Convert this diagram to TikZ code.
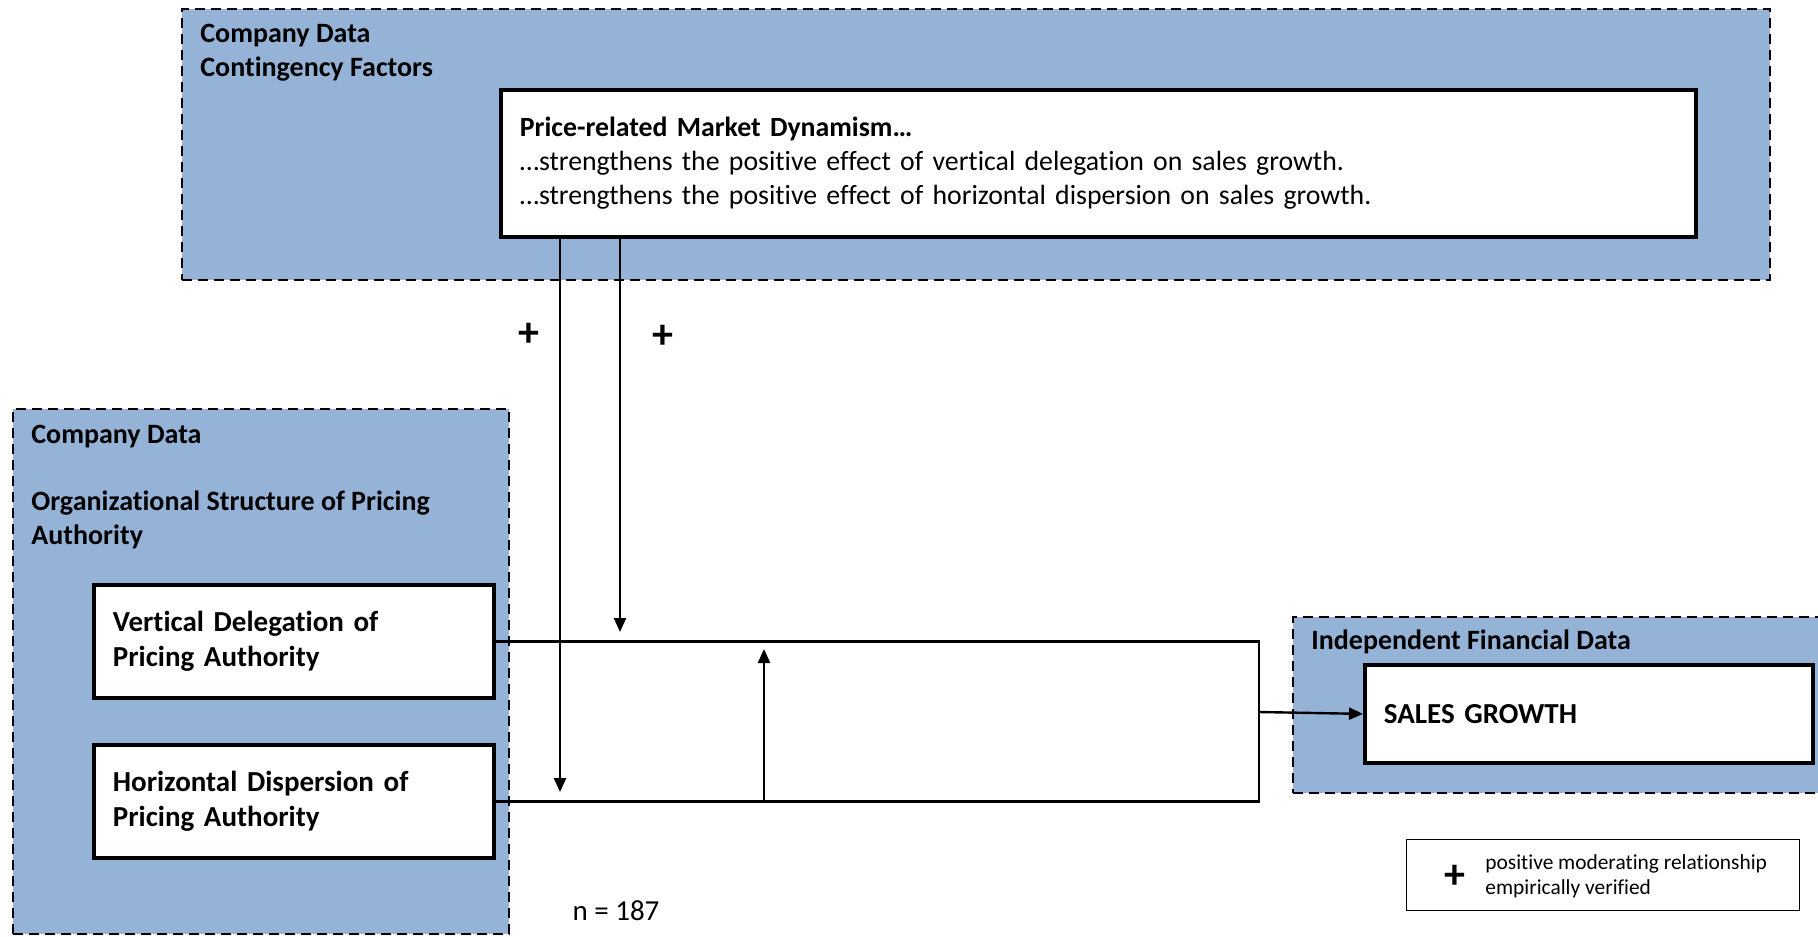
\documentclass[tikz,border=0pt]{standalone}
\usepackage{fontspec}
\setmainfont{Carlito}[Ligatures=NoCommon]
\usetikzlibrary{arrows.meta}
\definecolor{groupblue}{RGB}{149,179,215}

\begin{document}
\begin{tikzpicture}[x=0.5pt,y=-0.5pt,
    group/.style={draw,fill=groupblue,line width=1pt,dash pattern=on 5pt off 3pt,anchor=north west,inner sep=0pt},
    box/.style={draw,fill=white,line width=1.9pt,anchor=north west,align=left,inner xsep=9.5pt},
    glabel/.style={anchor=west,align=left,inner sep=0pt,font=\bfseries\fontsize{14}{17}\selectfont},
    keytxt/.style={anchor=west,inner sep=0pt,font=\fontsize{10.7}{12}\selectfont},
    plus/.style={font=\bfseries\fontsize{21}{21}\selectfont},
    link/.style={line width=1.2pt},
    tip/.style={link,-{Triangle[length=7pt,width=6pt]}}]
  \useasboundingbox (0,0) rectangle (1818,936);

  % contingency factors
  \node[group,minimum width=794pt,minimum height=135.5pt] (ctx) at (181,8) {};
  \node[glabel] (ctxlab) at (200,53) {Company Data\\Contingency Factors};
  \node[box,minimum height=73.5pt,text width=578.5pt,font=\fontsize{13.9}{17}\selectfont] (pmd) at (499,88)
    {\textbf{Price-related Market Dynamism…}\\…strengthens the positive effect of vertical delegation on sales growth.\\…strengthens the positive effect of horizontal dispersion on sales growth.};

  % pricing authority
  \node[group,minimum width=248pt,minimum height=262.5pt] (org) at (12,408) {};
  \node[glabel] (orglab) at (31,437) {Company Data};
  \node[glabel] (orgsub) at (31,520) {Organizational Structure of Pricing\\Authority};
  \node[box,minimum height=56.5pt,text width=181pt,font=\bfseries\fontsize{14.5}{17.5}\selectfont] (vd) at (92,583)
    {Vertical Delegation of\\Pricing Authority};
  \node[box,minimum height=56.5pt,text width=181pt,font=\bfseries\fontsize{14.5}{17.5}\selectfont] (hd) at (92,743)
    {Horizontal Dispersion of\\Pricing Authority};

  % outcome
  \node[group,minimum width=269pt,minimum height=88pt] (fin) at (1292,616) {};
  \node[glabel] (finlab) at (1311,642) {Independent Financial Data};
  \node[box,minimum height=49pt,text width=205pt,font=\bfseries\fontsize{14.5}{17.5}\selectfont] (sg) at (1363,663)
    {SALES GROWTH};

  % legend
  \node[draw,line width=0.7pt,minimum width=196.5pt,minimum height=35.5pt,anchor=north west] (key) at (1406,839) {};
  \node[plus] (keyplus) at (1455,877) {+};
  \node[keytxt] (keytop) at (1485,864) {positive moderating relationship};
  \node[keytxt] (keybot) at (1485,889) {empirically verified};

  \node[plus] (p1) at (529,335) {+};
  \node[plus] (p2) at (663,337) {+};
  \node[font=\fontsize{14.5}{15}\selectfont] (n) at (616,911) {n = 187};

  % connectors
  \coordinate (jn) at (1259,712);
  \coordinate (hdup) at (764,799.5);
  \coordinate (hdtop) at (764,649);
  \coordinate (m1) at (560,792);
  \coordinate (m2) at (620,632);
  \draw[link] (vd.east) -| (jn) |- (hd.east);
  \draw[tip] (jn) -- (sg.west);
  \draw[tip] (hdup) -- (hdtop);
  \draw[tip] (pmd.south -| m1) -- (m1);
  \draw[tip] (pmd.south -| m2) -- (m2);
\end{tikzpicture}
\end{document}
